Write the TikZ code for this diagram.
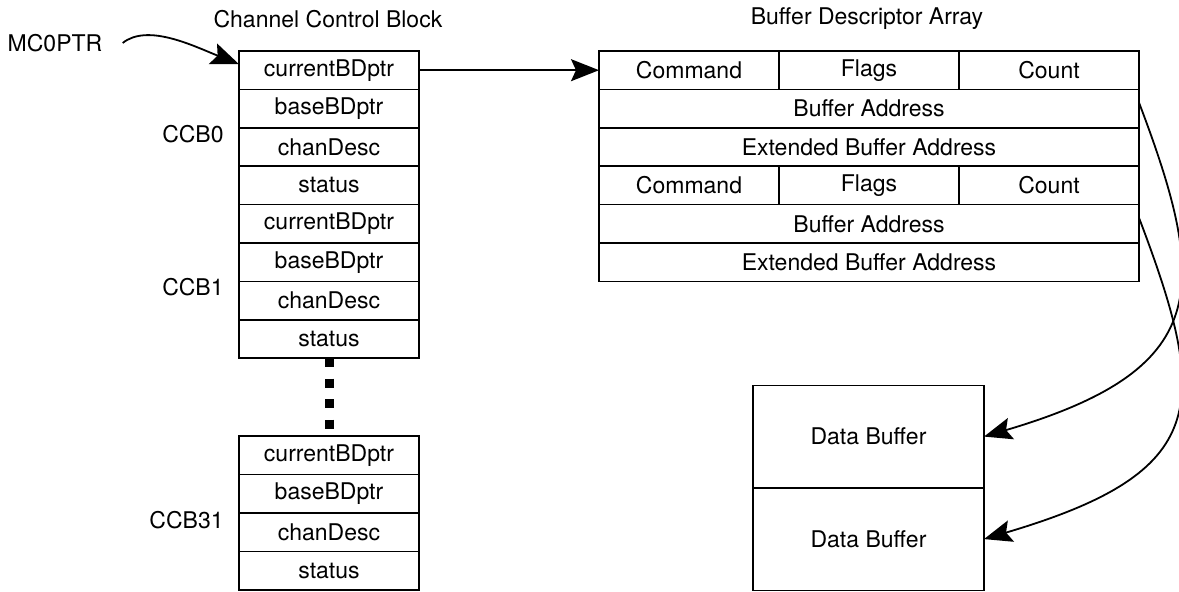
\documentclass[tikz,border=0pt]{standalone}
\usepackage{fontspec}
\setmainfont{TeX Gyre Heros}
\usetikzlibrary{arrows.meta, positioning}

\begin{document}
\begin{tikzpicture}[
  % one pixel of the sketch is half a point, y runs down the page
  x=0.5pt, y=-0.5pt,
  field/.style={
    draw, line width=0.8pt, inner sep=0pt, outer sep=0pt,
    minimum height=19.2pt, font=\fontsize{11.5}{13}\selectfont
  },
  ccbrow/.style={field, minimum width=90pt},
  bdcell/.style={field, minimum width=90pt},
  bdrow/.style={field, minimum width=270pt},
  bufhalf/.style={field, minimum width=115.5pt, minimum height=51.25pt},
  heading/.style={font=\fontsize{11.5}{13}\selectfont, inner sep=0pt},
  ptr/.style={-{Stealth[length=14pt, width=11pt, inset=2.5pt]}, line width=0.9pt},
  etc/.style={line width=4.5pt, dash pattern=on 4.5pt off 5.75pt}
]
\useasboundingbox (0,0) rectangle (1179,592);

% --- headings ----------------------------------------------------------------
\node[heading] (cctitle) at (328,19) {Channel Control Block};
\node[heading] (bdtitle) at (867,19) {Buffer Descriptor Array};

% --- channel control blocks, four fields each ----------------------------------
\node[ccbrow] (cur0) at (329,70.2) {currentBDptr};
\node[ccbrow, below=0pt of cur0]  (base0) {baseBDptr};
\node[ccbrow, below=0pt of base0] (desc0) {chanDesc};
\node[ccbrow, below=0pt of desc0] (stat0) {status};
\node[ccbrow, below=0pt of stat0] (cur1)  {currentBDptr};
\node[ccbrow, below=0pt of cur1]  (base1) {baseBDptr};
\node[ccbrow, below=0pt of base1] (desc1) {chanDesc};
\node[ccbrow, below=0pt of desc1] (stat1) {status};

\node[ccbrow] (cur31) at (329,455.5) {currentBDptr};
\node[ccbrow, below=0pt of cur31]  (base31) {baseBDptr};
\node[ccbrow, below=0pt of base31] (desc31) {chanDesc};
\node[ccbrow, below=0pt of desc31] (stat31) {status};

\draw[etc] (stat1.south) -- (cur31.north);

\node[heading, anchor=east] (lab0)  at (224,134) {CCB0};
\node[heading, anchor=east] (lab1)  at (224,287) {CCB1};
\node[heading, anchor=east] (lab31) at (224,520) {CCB31};

% --- buffer descriptors, two of them -------------------------------------------
\node[bdcell] (cmd0) at (689,70.2) {Command};
\node[bdcell, right=0pt of cmd0] (flg0) {Flags};
\node[bdcell, right=0pt of flg0] (cnt0) {Count};
\node[bdrow, below=0pt of flg0]  (ba0)  {Buffer Address};
\node[bdrow, below=0pt of ba0]   (eba0) {Extended Buffer Address};
\node[bdcell, below=0pt of eba0.south west, anchor=north west] (cmd1) {Command};
\node[bdcell, right=0pt of cmd1] (flg1) {Flags};
\node[bdcell, right=0pt of flg1] (cnt1) {Count};
\node[bdrow, below=0pt of flg1]  (ba1)  {Buffer Address};
\node[bdrow, below=0pt of ba1]   (eba1) {Extended Buffer Address};

% --- data buffers --------------------------------------------------------------
\node[bufhalf] (db0) at (868.5,436.6) {Data Buffer};
\node[bufhalf, below=0pt of db0] (db1) {Data Buffer};

% --- pointers ------------------------------------------------------------------
\node[heading] (mc0) at (55,43) {MC0PTR};
\draw[ptr] ([xshift=10pt]mc0.east) .. controls +(25,-20) and +(-45,-18) .. ([yshift=3pt]cur0.west);
\draw[ptr] (cur0.east) -- (cmd0.west);
\draw[ptr] ([yshift=3pt]ba0.east) .. controls +(71,187) and +(227,-67) .. (db0.east);
\draw[ptr] ([yshift=3pt]ba1.east) .. controls +(71,187) and +(227,-67) .. (db1.east);

\end{tikzpicture}
\end{document}
